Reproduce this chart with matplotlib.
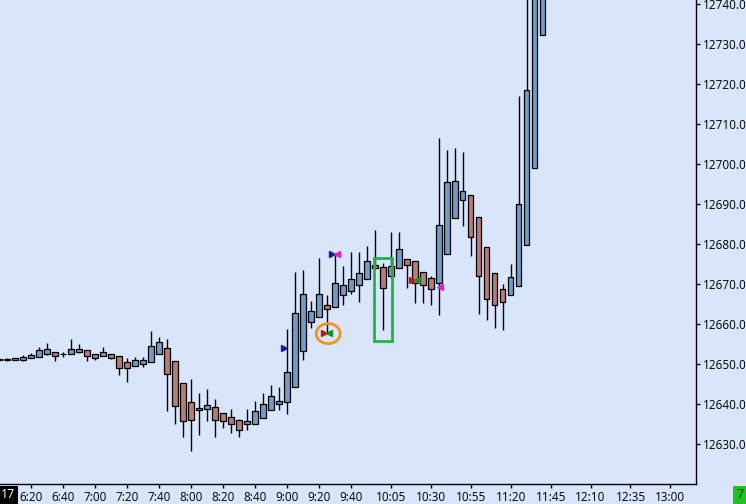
import matplotlib.pyplot as plt
from matplotlib.patches import Ellipse, Rectangle

plt.rcParams['font.family'] = ['Open Sans', 'DejaVu Sans']

# 5 minute bars, 6:00 .. 11:40
times = ["6:00", "6:05", "6:10", "6:15", "6:20", "6:25", "6:30", "6:35", "6:40", "6:45",
         "6:50", "6:55", "7:00", "7:05", "7:10", "7:15", "7:20", "7:25", "7:30", "7:35",
         "7:40", "7:45", "7:50", "7:55", "8:00", "8:05", "8:10", "8:15", "8:20", "8:25",
         "8:30", "8:35", "8:40", "8:45", "8:50", "8:55", "9:00", "9:05", "9:10", "9:15",
         "9:20", "9:25", "9:30", "9:35", "9:40", "9:45", "9:50", "9:55", "10:00", "10:05",
         "10:10", "10:15", "10:20", "10:25", "10:30", "10:35", "10:40", "10:45", "10:50", "10:55",
         "11:00", "11:05", "11:10", "11:15", "11:20", "11:25", "11:30", "11:35", "11:40"]
opens = [12651.0, 12651.1, 12650.9, 12651.1, 12651.4, 12651.7, 12652.6, 12653.1, 12652.4, 12652.4,
         12653.1, 12653.4, 12652.6, 12652.1, 12652.6, 12652.1, 12650.6, 12649.6, 12650.1, 12650.6,
         12652.4, 12653.9, 12650.8, 12645.2, 12640.4, 12638.4, 12638.8, 12639.2, 12637.8, 12636.8,
         12635.9, 12634.9, 12635.1, 12636.6, 12638.4, 12640.1, 12640.4, 12644.2, 12653.3, 12660.5,
         12661.7, 12664.7, 12664.2, 12667.2, 12668.3, 12669.7, 12671.2, 12674.7, 12674.2, 12672.0,
         12673.9, 12676.3, 12675.7, 12672.9, 12671.4, 12670.2, 12677.4, 12686.4, 12690.9, 12692.2,
         12686.8, 12679.3, 12672.8, 12668.7, 12667.2, 12669.5, 12679.7, 12699.0, 12732.2]
highs = [12651.3, 12651.4, 12651.5, 12652.2, 12652.7, 12654.2, 12655.2, 12653.1, 12653.1, 12656.2,
         12655.1, 12653.4, 12652.6, 12654.2, 12652.6, 12652.1, 12651.6, 12651.8, 12651.8, 12658.2,
         12656.8, 12656.2, 12650.8, 12645.2, 12646.2, 12642.8, 12643.8, 12641.2, 12637.8, 12638.8,
         12636.2, 12638.8, 12640.8, 12642.8, 12644.8, 12644.2, 12658.8, 12673.1, 12673.5, 12665.8,
         12676.4, 12667.2, 12677.7, 12674.5, 12678.0, 12678.0, 12679.5, 12683.5, 12675.2, 12683.0,
         12683.0, 12676.3, 12675.7, 12672.9, 12671.9, 12706.5, 12703.5, 12704.1, 12703.0, 12692.2,
         12686.8, 12679.3, 12672.8, 12670.0, 12674.9, 12717.0, 12745.0, 12752.0, 12760.0]
lows = [12650.9, 12650.8, 12650.9, 12650.8, 12651.4, 12651.7, 12652.2, 12650.8, 12651.8, 12652.4,
        12652.8, 12650.8, 12650.9, 12652.1, 12651.2, 12647.2, 12645.4, 12649.6, 12649.2, 12650.6,
        12652.4, 12638.2, 12634.9, 12631.8, 12628.2, 12632.2, 12635.8, 12631.8, 12633.9, 12632.8,
        12631.8, 12633.4, 12635.1, 12636.6, 12638.4, 12638.4, 12637.4, 12644.2, 12651.0, 12658.9,
        12661.7, 12657.7, 12664.2, 12664.8, 12667.5, 12665.5, 12671.2, 12674.0, 12658.5, 12671.4,
        12673.9, 12668.9, 12665.3, 12665.3, 12664.8, 12662.3, 12677.4, 12686.4, 12684.6, 12677.1,
        12662.4, 12661.0, 12658.9, 12658.5, 12667.2, 12669.5, 12679.7, 12699.0, 12732.2]
closes = [12651.2, 12651.1, 12651.5, 12651.8, 12652.2, 12653.4, 12653.8, 12652.1, 12652.4, 12653.8,
          12653.8, 12651.9, 12651.4, 12653.1, 12651.6, 12648.9, 12648.9, 12651.1, 12651.1, 12654.4,
          12655.6, 12647.4, 12639.6, 12635.8, 12636.1, 12639.1, 12639.8, 12636.1, 12635.8, 12635.1,
          12633.6, 12635.8, 12638.2, 12639.9, 12641.9, 12640.8, 12647.9, 12662.7, 12667.5, 12663.2,
          12667.5, 12663.7, 12670.2, 12669.7, 12671.2, 12672.7, 12675.8, 12674.0, 12668.9, 12674.5,
          12678.8, 12674.7, 12670.2, 12669.7, 12668.7, 12684.7, 12695.4, 12695.8, 12693.2, 12681.7,
          12672.0, 12666.2, 12664.8, 12665.5, 12671.7, 12689.9, 12718.5, 12748.0, 12755.0]

tick_labels = ["6:20", "6:40", "7:00", "7:20", "7:40", "8:00", "8:20", "8:40", "9:00", "9:20",
               "9:40", "10:05", "10:30", "10:55", "11:20", "11:45", "12:10", "12:35", "13:00"]
price_ticks = [12630.0, 12640.0, 12650.0, 12660.0, 12670.0, 12680.0,
               12690.0, 12700.0, 12710.0, 12720.0, 12730.0, 12740.0]

# signal markers: (bar position, price, marker, colour)
signals = [
    (35.6, 12654.0, '>', '#1a1a9a'),
    (41.7, 12677.4, '>', '#1a1a9a'),
    (42.3, 12677.4, '<', '#e020d0'),
    (40.7, 12657.7, '>', '#c01818'),
    (41.3, 12657.7, '<', '#1a8a2a'),
    (51.6, 12670.9, '>', '#c01818'),
    (52.3, 12670.9, '<', '#1a8a2a'),
    (55.2, 12669.3, '<', '#e020d0'),
]

up_col = '#6f9cc9'
down_col = '#b97a7a'
bg = '#d9e5fb'


def bar_of(t):
    # bar index of a clock time, first bar is 6:00
    h, m = t.split(":")
    return (int(h) * 60 + int(m) - 360) / 5


fig = plt.figure(figsize=(7.46, 5.04), dpi=100)
fig.patch.set_facecolor(bg)
ax = fig.add_axes([0, 20 / 504, 696 / 746, 484 / 504])
ax.set_facecolor(bg)

x = [bar_of(t) for t in times]
cols = [up_col if c >= o else down_col for o, c in zip(opens, closes)]
ax.vlines(x, lows, highs, color='black', lw=1, zorder=2)
bottoms = [min(o, c) for o, c in zip(opens, closes)]
heights = [max(abs(c - o), 0.15) for o, c in zip(opens, closes)]
ax.bar(x, heights, bottom=bottoms, width=0.7, color=cols, edgecolor='black', lw=0.9, zorder=3)

for bx, py, m, c in signals:
    ax.plot(bx, py, marker=m, color=c, markersize=4.5, zorder=4, linestyle='none')

ax.add_patch(Ellipse((41.17, 12657.6), 3.0, 5.0, fill=False, edgecolor='#f39223', lw=2, zorder=5))
ax.add_patch(Rectangle((46.96, 12655.8), 2.24, 20.6, fill=False, edgecolor='#22b14c', lw=2, zorder=5))

ax.set_xlim(0.09, 87.2)
ax.set_ylim(12620, 12741)

ax.set_xticks([bar_of(t) for t in tick_labels])
ax.set_xticklabels(tick_labels)
ax.yaxis.tick_right()
ax.set_yticks(price_ticks)
ax.set_yticklabels([f"{p:.1f}" for p in price_ticks])
ax.tick_params(axis='both', labelsize=8.5, length=3, width=1, color='black', pad=2)
for s in ['top', 'left']:
    ax.spines[s].set_visible(False)
for s in ['right', 'bottom']:
    ax.spines[s].set_linewidth(1)

fig.text(1 / 746, 9 / 504, "17", color='white', fontsize=9, va='center', ha='left',
         bbox=dict(facecolor='black', edgecolor='none', pad=2))
fig.text(736 / 746, 9 / 504, "7", color='#103010', fontsize=9, va='center', ha='left',
         bbox=dict(facecolor='#22c022', edgecolor='none', pad=2.2))

fig.savefig("out.png", dpi=100, facecolor=bg)
